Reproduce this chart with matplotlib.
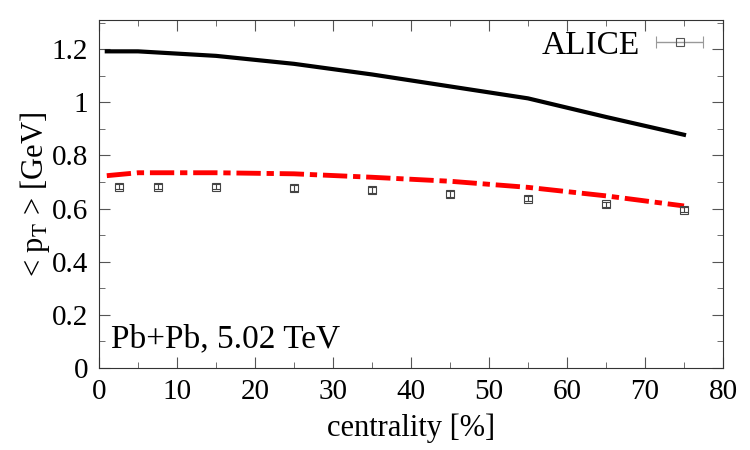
import numpy as np
import matplotlib.pyplot as plt
from matplotlib.ticker import MultipleLocator
from matplotlib.legend_handler import HandlerErrorbar

plt.rcParams['font.family'] = ['Liberation Serif', 'DejaVu Serif']
plt.rcParams['mathtext.fontset'] = 'stix'

# model curves
cent_model = [1, 5, 15, 25, 35, 45, 55, 65, 75]
pt_black = [1.192, 1.192, 1.175, 1.145, 1.105, 1.06, 1.015, 0.945, 0.878]
pt_red = [0.724, 0.735, 0.735, 0.731, 0.718, 0.703, 0.68, 0.648, 0.61]

# ALICE data
cent_alice = [2.5, 7.5, 15, 25, 35, 45, 55, 65, 75]
pt_alice = [0.683, 0.683, 0.682, 0.678, 0.67, 0.655, 0.637, 0.616, 0.596]
err_alice = [0.01, 0.01, 0.01, 0.01, 0.01, 0.01, 0.01, 0.01, 0.01]

fig = plt.figure(figsize=(7.5, 4.5), dpi=100)
ax = fig.add_axes([99/750, 82/450, 624/750, 348/450])

ax.plot(cent_model, pt_black, color='black', lw=3)
ax.plot(cent_model, pt_red, color='red', lw=3.5, dashes=[5, 1.2, 1.5, 1.2])
ax.errorbar(cent_alice, pt_alice, yerr=err_alice, fmt='s', ms=6, mfc='none',
            mec='#444444', mew=0.8, ecolor='#444444', elinewidth=0.8,
            capsize=3)
# legend proxy with horizontal bar, as in the original key
proxy = ax.errorbar([np.nan], [np.nan], xerr=[1], fmt='s', ms=6, mfc='none',
                    mec='#555555', mew=0.8, ecolor='#999999', elinewidth=1,
                    capsize=4, label='ALICE')

ax.set_xlim(0, 80)
ax.set_ylim(0, 1.31)
ax.xaxis.set_major_locator(MultipleLocator(10))
ax.xaxis.set_minor_locator(MultipleLocator(5))
ax.yaxis.set_minor_locator(MultipleLocator(0.1))
ax.set_yticks([0, 0.2, 0.4, 0.6, 0.8, 1.0, 1.2])
ax.set_yticklabels(['0', '0.2', '0.4', '0.6', '0.8', '1', '1.2'])
ax.tick_params(which='both', direction='in', top=True, right=True,
               labelsize=21, pad=8, color='#555555')
ax.tick_params(which='major', length=8)
ax.tick_params(which='minor', length=4)
for s in ax.spines.values():
    s.set_color('#333333')

ax.set_xlabel('centrality [%]', fontsize=22, labelpad=6)
ax.set_ylabel(r'< p$_\mathrm{T}$ > [GeV]', fontsize=22, labelpad=0)

ax.text(0.02, 0.06, 'Pb+Pb, 5.02 TeV', transform=ax.transAxes, fontsize=24)

ax.legend(handles=[proxy], loc='upper right', bbox_to_anchor=(1.0, 1.0),
          frameon=False, markerfirst=False, fontsize=24, handlelength=2.0,
          borderaxespad=0.0, handletextpad=0.2, borderpad=0.3,
          handler_map={type(proxy): HandlerErrorbar(xerr_size=0.7)})

fig.savefig('out.png', dpi=100)
